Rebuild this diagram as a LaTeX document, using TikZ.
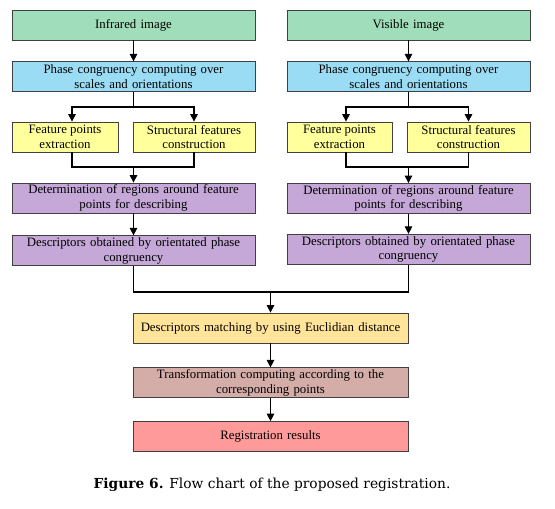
\documentclass[tikz,border=0pt]{standalone}
\usepackage{fontspec}
\setmainfont{Liberation Serif}
\newfontfamily\capfont{DejaVu Serif}
\usetikzlibrary{positioning, arrows.meta}

\definecolor{imggreen}{HTML}{A0DDBA}
\definecolor{pcblue}{HTML}{9BDCF5}
\definecolor{featyellow}{HTML}{FFFF9C}
\definecolor{descpurple}{HTML}{C5A8D8}
\definecolor{matchorange}{HTML}{FFE49A}
\definecolor{transrose}{HTML}{D5ADA8}
\definecolor{resultred}{HTML}{FF9A9A}

\begin{document}
\begin{tikzpicture}[x=1pt, y=1pt,
    box/.style={draw=black!75, line width=0.8pt, rectangle, align=center, minimum height=30pt,
        inner sep=0pt, font=\fontsize{12.8}{14.6}\selectfont},
    colbox/.style={box, minimum width=243pt, text width=240pt},
    bigbox/.style={box, minimum width=275pt, text width=272pt},
    arr/.style={line width=1.1pt, -{Triangle[width=7.5pt, length=7.5pt]}},
    line/.style={line width=1.1pt}]
        \useasboundingbox (0,0) rectangle (555,-509);

        % Left column
        \node[colbox, fill=imggreen] (irimg) at (133.5,-25) {Infrared image};
        \node[colbox, fill=pcblue] (irpc) [below=21pt of irimg] {Phase congruency computing over\\scales and orientations};
        \node[box, fill=featyellow, minimum width=106pt] (irfp) at (65,-137) {Feature points\\extraction};
        \node[box, fill=featyellow, minimum width=122pt] (irsf) at (194,-137) {Structural features\\construction};
        \node[colbox, fill=descpurple] (irreg) at (133.5,-198) {Determination of regions around feature\\points for describing};
        \node[colbox, fill=descpurple] (irdesc) [below=22pt of irreg] {Descriptors obtained by orientated phase\\congruency};

        % Right column
        \node[colbox, fill=imggreen] (viimg) at (408.5,-25) {Visible image};
        \node[colbox, fill=pcblue] (vipc) [below=21pt of viimg] {Phase congruency computing over\\scales and orientations};
        \node[box, fill=featyellow, minimum width=105pt] (vifp) at (339.5,-137) {Feature points\\extraction};
        \node[box, fill=featyellow, minimum width=123pt] (visf) at (468.5,-137) {Structural features\\construction};
        \node[colbox, fill=descpurple] (vireg) at (408.5,-198.5) {Determination of regions around feature\\points for describing};
        \node[colbox, fill=descpurple] (videsc) [below=20pt of vireg] {Descriptors obtained by orientated phase\\congruency};

        % Common part
        \node[bigbox, fill=matchorange] (match) at (270.5,-328) {Descriptors matching by using Euclidian distance};
        \node[bigbox, fill=transrose] (trans) [below=24pt of match] {Transformation computing according to the\\corresponding points};
        \node[bigbox, fill=resultred] (result) [below=23pt of trans] {Registration results};

        % Branch and join points
        \coordinate (irsplit) at (133.5,-107);
        \coordinate (irjoin) at (133.5,-167);
        \coordinate (visplit) at (408.5,-107);
        \coordinate (vijoin) at (408.5,-167);
        \coordinate (join) at (270.5,-292);

        % Connectors
        \foreach \s in {ir, vi} {
            \draw[arr] (\s img) -- (\s pc);
            \draw[line] (\s pc) -- (\s split);
            \draw[arr] (\s reg) -- (\s desc);
        }
        \draw[arr] (irsplit) -| ([xshift=7pt]irfp.north);
        \draw[arr] (irsplit) -| (irsf.north);
        \draw[line] ([xshift=7pt]irfp.south) |- (irjoin) -| (irsf.south);
        \draw[arr] (irjoin) -- (irreg);
        \draw[arr] (visplit) -| ([xshift=6.5pt]vifp.north);
        \draw[arr] (visplit) -| (visf.north);
        \draw[line] ([xshift=6.5pt]vifp.south) |- (vijoin) -| (visf.south);
        \draw[arr] (vijoin) -- (vireg);
        \draw[line] (irdesc.south) |- (join) -| (videsc.south);
        \draw[arr] (join) -- (match);
        \draw[arr] (match) -- (trans);
        \draw[arr] (trans) -- (result);

        % Caption
        \node[font=\capfont\fontsize{13.8}{16}\selectfont] (caption) at (272,-485) {\textbf{Figure 6.} Flow chart of the proposed registration.};
\end{tikzpicture}
\end{document}
